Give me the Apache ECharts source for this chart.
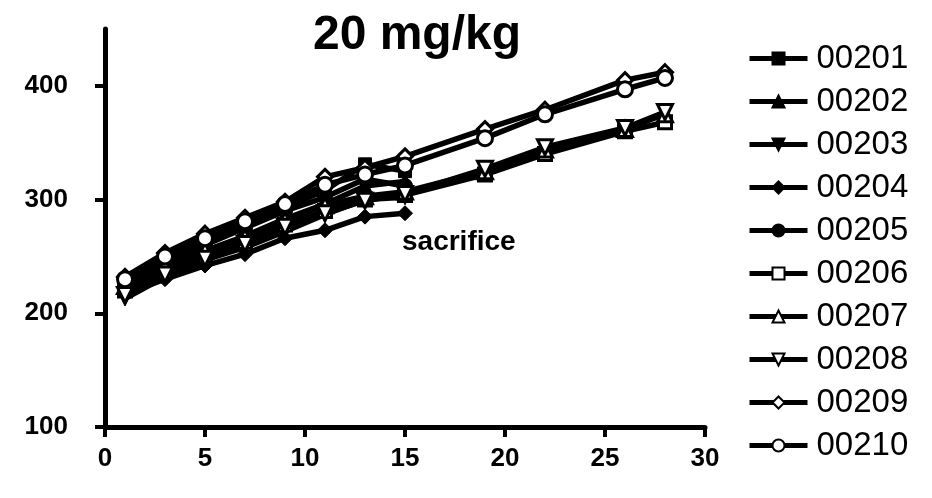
<!DOCTYPE html>
<html>
<head>
<meta charset="utf-8">
<title>20 mg/kg</title>
<script src="https://cdn.jsdelivr.net/npm/echarts@6/dist/echarts.min.js"></script>
<style>
  html, body { margin: 0; padding: 0; background: #fff; }
  #chart { width: 932px; height: 498px; }
</style>
</head>
<body>
<div id="chart"></div>
<script>
// body weight per animal, days on study
const days = [1, 3, 5, 7, 9, 11, 13, 15, 19, 22, 26, 28];

// 00201-00205 sacrificed after day 15
const w00201 = [228, 246, 262, 276, 293, 308, 331, 325];
const w00202 = [222, 240, 255, 268, 283, 296, 312, 316];
const w00203 = [213, 232, 247, 258, 272, 287, 300, 302];
const w00204 = [217, 230, 242, 252, 266, 273, 285, 288];
const w00205 = [225, 244, 260, 275, 290, 302, 318, 312];
const w00206 = [220, 237, 251, 263, 278, 290, 300, 304, 322, 340, 360, 368];
const w00207 = [224, 241, 255, 267, 282, 295, 303, 307, 325, 344, 362, 375];
const w00208 = [216, 234, 248, 261, 276, 288, 299, 305, 327, 346, 363, 377];
const w00209 = [232, 253, 270, 284, 298, 320, 328, 338, 362, 379, 405, 412];
const w00210 = [230, 250, 266, 281, 296, 313, 322, 330, 354, 375, 397, 407];

const animals = ['00201', '00202', '00203', '00204', '00205', '00206', '00207', '00208', '00209', '00210'];
const weights = [w00201, w00202, w00203, w00204, w00205, w00206, w00207, w00208, w00209, w00210];
const yTicks = [100, 200, 300, 400];
const xTicks = [0, 5, 10, 15, 20, 25, 30];

// marker per animal: shape, rotation, filled?
const markers = [
    ['rect', 0, true], ['triangle', 0, true], ['triangle', 180, true], ['diamond', 0, true], ['circle', 0, true],
    ['rect', 0, false], ['triangle', 0, false], ['triangle', 180, false], ['diamond', 0, false], ['circle', 0, false]
];

const font = 'Liberation Sans, Arial, sans-serif';

const series = animals.map((name, i) => {
    const [shape, rot, filled] = markers[i];
    return {
        name: name,
        type: 'line',
        data: weights[i].map((v, j) => [days[j], v]),
        symbol: shape,
        symbolRotate: rot,
        symbolSize: shape === 'rect' ? 13 : 15,
        lineStyle: { color: '#000', width: 5.5 },
        itemStyle: {
            color: filled ? '#000' : '#fff',
            borderColor: '#000',
            borderWidth: filled ? 1 : 3
        }
    };
});

const chart = echarts.init(document.getElementById('chart'));
chart.setOption({
    animation: false,
    color: ['#000'],
    title: {
        text: '20 mg/kg',
        left: 417,
        top: 12,
        padding: 0,
        textAlign: 'center',
        textStyle: { fontFamily: font, fontSize: 48, fontWeight: 'bold', color: '#000' }
    },
    legend: {
        data: animals,
        orient: 'vertical',
        left: 747,
        top: 42,
        padding: 0,
        itemWidth: 58,
        itemHeight: 15,
        itemGap: 10,
        inactiveColor: '#000',
        lineStyle: { color: '#000', width: 5 },
        textStyle: { fontFamily: font, fontSize: 33, color: '#000', lineHeight: 32, padding: [0, 0, 0, 4] }
    },
    grid: { left: 105, right: 227, top: 29, bottom: 71 },
    xAxis: {
        type: 'value',
        min: 0,
        max: 30,
        interval: 5,
        splitLine: { show: false },
        axisLine: { onZero: false, lineStyle: { color: '#000', width: 5 } },
        axisTick: { length: 10, lineStyle: { color: '#000', width: 4 } },
        axisLabel: { margin: 19, color: '#000', fontFamily: font, fontSize: 26, fontWeight: 'bold',
            customValues: xTicks }
    },
    yAxis: {
        type: 'value',
        min: 100,
        max: 450,
        interval: 50,
        splitLine: { show: false },
        axisLine: { show: true, onZero: false, lineStyle: { color: '#000', width: 5 } },
        axisTick: { length: 10, lineStyle: { color: '#000', width: 4 }, customValues: yTicks },
        axisLabel: { margin: 37, color: '#000', fontFamily: font, fontSize: 26, fontWeight: 'bold',
            customValues: yTicks }
    },
    graphic: [{
        type: 'text',
        left: 402,
        top: 228,
        style: { text: 'sacrifice', fontFamily: font, fontSize: 28, fontWeight: 'bold', fill: '#000' }
    }],
    series: series
});
</script>
</body>
</html>
